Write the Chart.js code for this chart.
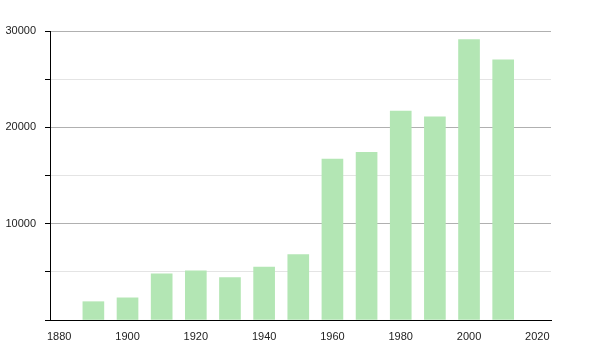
<!DOCTYPE html>
<html>
<head>
<meta charset="utf-8">
<script src="https://cdn.jsdelivr.net/npm/chart.js@4/dist/chart.umd.min.js"></script>
<style>
  html, body { margin: 0; padding: 0; background: #fff; }
  #wrap { width: 600px; height: 350px; }
</style>
</head>
<body>
<div id="wrap"><canvas id="chart" width="600" height="350"></canvas></div>
<script>
// Data
const years = [1890, 1900, 1910, 1920, 1930, 1940, 1950, 1960, 1970, 1980, 1990, 2000, 2010];
const population = [1900, 2300, 4800, 5100, 4400, 5500, 6800, 16700, 17400, 21700, 21100, 29100, 27000];
const xTicks = [1880, 1900, 1920, 1940, 1960, 1980, 2000, 2020];

const points = years.map((y, i) => ({ x: y, y: population[i] }));

const ctx = document.getElementById("chart").getContext("2d");
new Chart(ctx, {
  type: "bar",
  data: {
    datasets: [
      {
        data: points,
        backgroundColor: "#b3e6b4",
        borderWidth: 0,
        barThickness: 21
      }
    ]
  },
  options: {
    responsive: false,
    animation: false,
    layout: { padding: { top: 31, right: 49, left: 0, bottom: 0 } },
    plugins: {
      legend: { display: false },
      tooltip: { enabled: false }
    },
    scales: {
      x: {
        type: "linear",
        offset: false,
        min: 1877.3,
        max: 2024,
        afterBuildTicks: scale => {
          scale.ticks = xTicks.map(v => ({ value: v }));
        },
        afterFit: scale => { scale.height = 30; },
        grid: { display: false, offset: false },
        border: { display: true, color: "#000", width: 1 },
        ticks: {
          autoSkip: false,
          maxRotation: 0,
          padding: 2,
          color: "#222",
          font: { family: "Liberation Sans", size: 11 },
          callback: v => String(v)
        }
      },
      y: {
        min: 0,
        max: 30000,
        afterFit: scale => { scale.width = 50; },
        border: { display: true, color: "#000", width: 1 },
        grid: {
          color: c => (c.tick && c.tick.value % 10000 === 0 ? "#b0b0b0" : "#e4e4e4"),
          tickColor: "#000",
          tickLength: 5
        },
        ticks: {
          stepSize: 5000,
          padding: 9,
          color: "#222",
          font: { family: "Liberation Sans", size: 11 },
          callback: v => (v === 0 ? "" : v % 10000 === 0 ? String(v) : "")
        }
      }
    }
  }
});
</script>
</body>
</html>
